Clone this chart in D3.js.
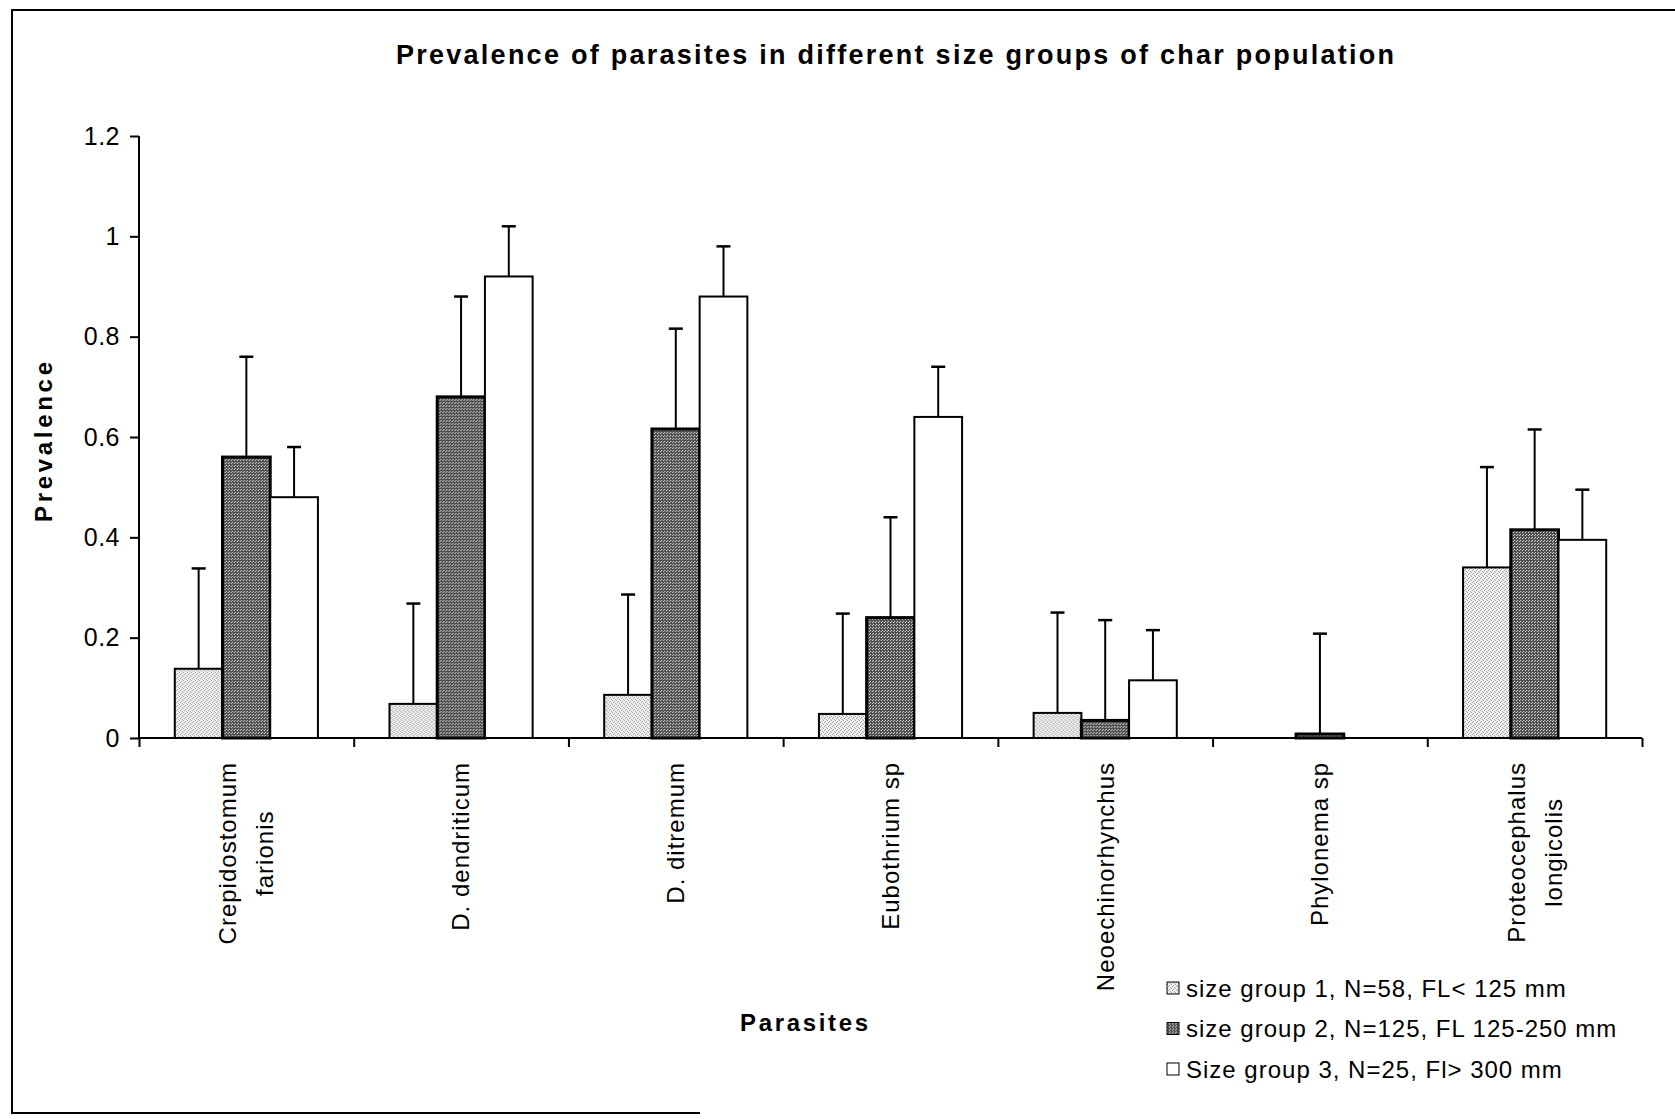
<!DOCTYPE html>
<html>
<head>
<meta charset="utf-8">
<script src="https://cdn.jsdelivr.net/npm/d3@7/dist/d3.min.js"></script>
<style>
  html, body { margin: 0; padding: 0; background: #fff; }
  svg { display: block; font-family: "Liberation Sans", Arial, sans-serif; }
</style>
</head>
<body>
<svg id="chart" width="1675" height="1119"></svg>
<script>
// Parasite taxa (multi-line names are stacked lines)
const categories = [
  ["Crepidostomum", "farionis"],
  ["D. dendriticum"],
  ["D. ditremum"],
  ["Eubothrium sp"],
  ["Neoechinorhynchus"],
  ["Phylonema sp"],
  ["Proteocephalus", "longicolis"]
];

const seriesNames = [
  "size group 1, N=58, FL< 125 mm",
  "size group 2, N=125, FL 125-250 mm",
  "Size group 3, N=25, Fl> 300 mm"
];

// Prevalence per size group
const group1 = [0.138, 0.068, 0.086, 0.048, 0.050, 0.000, 0.340];
const group2 = [0.560, 0.680, 0.616, 0.240, 0.035, 0.008, 0.415];
const group3 = [0.480, 0.920, 0.880, 0.640, 0.115, 0.000, 0.395];

// Upper error bar lengths
const err1 = [0.2, 0.2, 0.2, 0.2, 0.2, 0.0, 0.2];
const err2 = [0.2, 0.2, 0.2, 0.2, 0.2, 0.2, 0.2];
const err3 = [0.1, 0.1, 0.1, 0.1, 0.1, 0.0, 0.1];

const yTicks = [0, 0.2, 0.4, 0.6, 0.8, 1, 1.2];
const yTickLabels = ["0", "0.2", "0.4", "0.6", "0.8", "1", "1.2"];

const titleText = "Prevalence of parasites in different size groups of char population";
const xTitle = "Parasites";
const yTitle = "Prevalence";

const svg = d3.select("#chart");

// Stipple fills for the bars
const defs = svg.append("defs");
const p1 = defs.append("pattern").attr("id", "fill1").attr("patternUnits", "userSpaceOnUse")
  .attr("width", 4).attr("height", 4);
p1.append("rect").attr("width", 4).attr("height", 4).attr("fill", "#f0f0f0");
[[0,0],[2,1],[1,2],[3,3]].forEach(([x, y]) =>
  p1.append("rect").attr("x", x).attr("y", y).attr("width", 1).attr("height", 1).attr("fill", "#a0a0a0"));

const p2 = defs.append("pattern").attr("id", "fill2").attr("patternUnits", "userSpaceOnUse")
  .attr("width", 3).attr("height", 3);
p2.append("rect").attr("width", 3).attr("height", 3).attr("fill", "#505050");
[[0,0],[2,1]].forEach(([x, y]) =>
  p2.append("rect").attr("x", x).attr("y", y).attr("width", 1).attr("height", 1).attr("fill", "#d8d8d8"));

const fills = ["url(#fill1)", "url(#fill2)", "#ffffff"];
const strokes = [2, 3, 2];

// Outer frame
svg.append("path")
  .attr("d", "M1675,10 H12 V1113 H700")
  .attr("fill", "none").attr("stroke", "#000").attr("stroke-width", 2);

// Scales
const plotLeft = 139, plotRight = 1642, plotTop = 136, plotBottom = 738;
const y = d3.scaleLinear().domain([0, 1.2]).range([plotBottom, plotTop]);
const x0 = d3.scaleBand().domain(d3.range(categories.length)).range([plotLeft, plotRight]).paddingInner(0).paddingOuter(0);
const barW = x0.bandwidth() / 4.5;
const x1 = d3.scaleBand().domain([0, 1, 2]).range([0, barW * 3]);
const groupOffset = (x0.bandwidth() - barW * 3) / 2;

const series = [group1, group2, group3];
const errors = [err1, err2, err3];

// Bars
const groups = svg.append("g").selectAll("g")
  .data(categories.map((c, i) => i))
  .join("g")
  .attr("transform", i => `translate(${x0(i) + groupOffset},0)`);

groups.selectAll("rect")
  .data(i => series.map((s, k) => ({ k, v: s[i], e: errors[k][i] })))
  .join("rect")
  .attr("x", d => x1(d.k))
  .attr("y", d => y(d.v))
  .attr("width", x1.bandwidth())
  .attr("height", d => y(0) - y(d.v))
  .attr("fill", d => fills[d.k])
  .attr("stroke", "#000")
  .attr("stroke-width", d => d.v > 0 ? strokes[d.k] : 0);

// Upper error bars
const errG = groups.selectAll("g.err")
  .data(i => series.map((s, k) => ({ k, v: s[i], e: errors[k][i] })).filter(d => d.e > 0))
  .join("g").attr("class", "err");
errG.append("line")
  .attr("x1", d => x1(d.k) + x1.bandwidth() / 2)
  .attr("x2", d => x1(d.k) + x1.bandwidth() / 2)
  .attr("y1", d => y(d.v))
  .attr("y2", d => y(d.v + d.e))
  .attr("stroke", "#000").attr("stroke-width", 2);
errG.append("line")
  .attr("x1", d => x1(d.k) + x1.bandwidth() / 2 - 7)
  .attr("x2", d => x1(d.k) + x1.bandwidth() / 2 + 7)
  .attr("y1", d => y(d.v + d.e))
  .attr("y2", d => y(d.v + d.e))
  .attr("stroke", "#000").attr("stroke-width", 2.5);

// Y axis
const yAxis = svg.append("g")
  .attr("transform", `translate(${plotLeft},0)`)
  .call(d3.axisLeft(y).tickValues(yTicks).tickSize(9).tickPadding(10)
    .tickFormat((d, i) => yTickLabels[i]));
yAxis.select(".domain").attr("stroke", "#000").attr("stroke-width", 2).attr("d", `M0,${plotTop}V${plotBottom}`);
yAxis.selectAll(".tick line").attr("stroke", "#000").attr("stroke-width", 2);
yAxis.selectAll(".tick text")
  .attr("font-size", 25).attr("fill", "#000").attr("letter-spacing", "0.5px")
  .attr("font-family", "Liberation Sans, Arial, sans-serif");

// X axis with ticks between categories
const xTickScale = d3.scaleLinear().domain([0, categories.length]).range([plotLeft, plotRight]);
const xAxis = svg.append("g")
  .attr("transform", `translate(0,${plotBottom})`)
  .call(d3.axisBottom(xTickScale).tickValues(d3.range(categories.length + 1)).tickSize(9).tickFormat(""));
xAxis.select(".domain").attr("stroke", "#000").attr("stroke-width", 2).attr("d", `M${plotLeft},0H${plotRight}`);
xAxis.selectAll(".tick line").attr("stroke", "#000").attr("stroke-width", 2);

// Category labels, rotated, hanging from below the axis
const labelTop = 762;
const lineGap = 37;
categories.forEach((lines, i) => {
  const cx = x0(i) + x0.bandwidth() / 2;
  const g = svg.append("g").attr("transform", `translate(${cx},${labelTop}) rotate(-90)`);
  const texts = lines.map((t, j) => g.append("text")
    .attr("font-size", 24).attr("letter-spacing", "1px").attr("fill", "#000")
    .attr("y", (j - (lines.length - 1) / 2) * lineGap)
    .attr("dy", "0.35em")
    .text(t));
  const maxLen = d3.max(texts, t => t.node().getComputedTextLength());
  texts.forEach(t => t.attr("text-anchor", "middle").attr("x", -maxLen / 2));
});

// Titles
svg.append("text")
  .attr("x", 895).attr("y", 64)
  .attr("text-anchor", "middle")
  .attr("font-size", 27).attr("font-weight", "bold")
  .attr("textLength", 998).attr("lengthAdjust", "spacing")
  .text(titleText);

svg.append("text")
  .attr("x", 804).attr("y", 1031)
  .attr("text-anchor", "middle")
  .attr("font-size", 24).attr("font-weight", "bold")
  .attr("textLength", 128).attr("lengthAdjust", "spacing")
  .text(xTitle);

svg.append("text")
  .attr("transform", "translate(52,442) rotate(-90)")
  .attr("text-anchor", "middle")
  .attr("font-size", 24).attr("font-weight", "bold")
  .attr("textLength", 160).attr("lengthAdjust", "spacing")
  .text(yTitle);

// Legend
const legend = svg.append("g").attr("transform", "translate(1167,988)");
seriesNames.forEach((name, k) => {
  const row = legend.append("g").attr("transform", `translate(0,${k * 40.5})`);
  row.append("rect")
    .attr("x", 0).attr("y", -6).attr("width", 12).attr("height", 12)
    .attr("fill", fills[k]).attr("stroke", "#000").attr("stroke-width", 1);
  row.append("text")
    .attr("x", 19).attr("dy", "0.36em")
    .attr("font-size", 24).attr("letter-spacing", "1px").attr("fill", "#000")
    .text(name);
});
</script>
</body>
</html>
